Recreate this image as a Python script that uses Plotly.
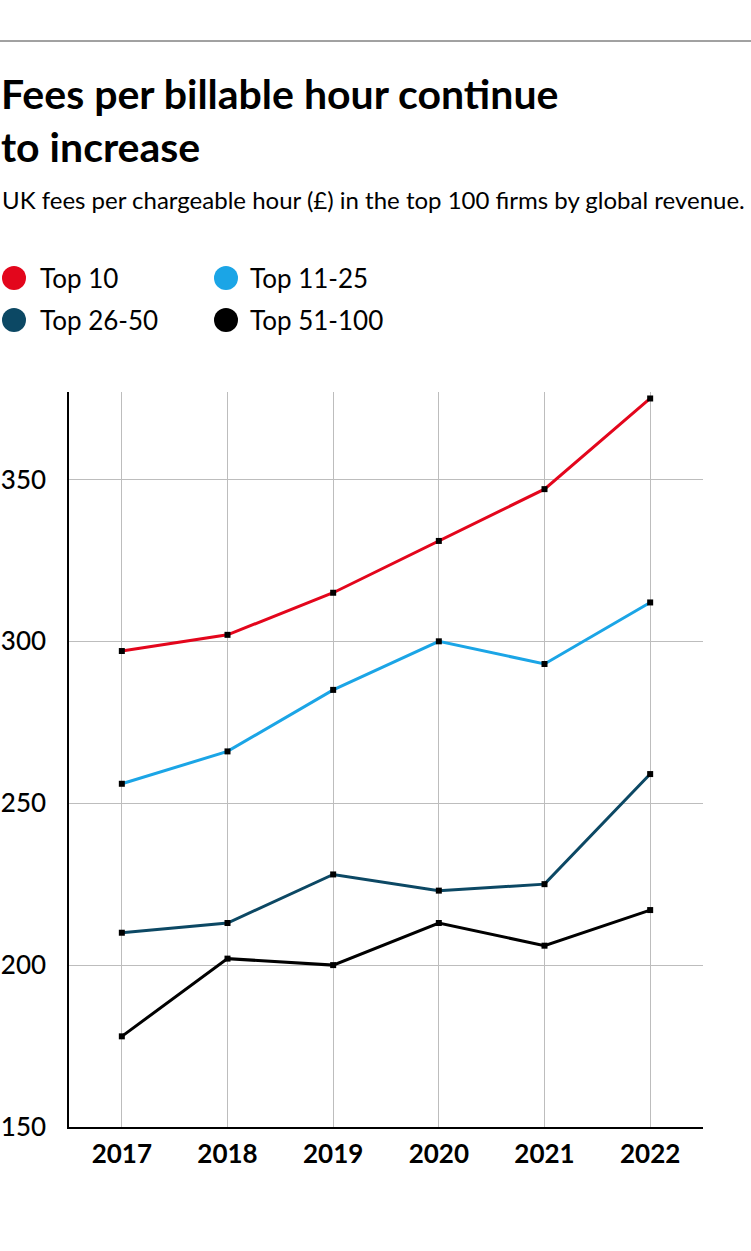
import plotly.graph_objects as go

years = [2017, 2018, 2019, 2020, 2021, 2022]
series_names = ["Top 10", "Top 11-25", "Top 26-50", "Top 51-100"]
top10 = [297, 302, 315, 331, 347, 375]
top11_25 = [256, 266, 285, 300, 293, 312]
top26_50 = [210, 213, 228, 223, 225, 259]
top51_100 = [178, 202, 200, 213, 206, 217]
series_values = [top10, top11_25, top26_50, top51_100]
colors = ["#e3061c", "#1ba5e6", "#0c4864", "#000000"]
y_ticks = [150, 200, 250, 300, 350]

W, H = 751, 1251
L, R, T, B = 69, 48, 392, 124
pw, ph = W - L - R, H - T - B

def px_x(x):
    return (x - L) / pw

def px_y(y):
    return (H - B - y) / ph

fig = go.Figure()
for name, vals, col in zip(series_names, series_values, colors):
    fig.add_trace(go.Scatter(
        x=years, y=vals, name=name, mode="lines+markers",
        line=dict(color=col, width=3),
        marker=dict(symbol="square", size=6, color="#000000"),
        showlegend=False,
    ))

# manual legend (2 columns): (circle centre x, centre y, label left x)
leg_pos = [(14, 278, 38), (226, 278, 248), (14, 320, 38), (226, 320, 248)]
shapes = []
annotations = []
for (cx, cy, lx), name, col in zip(leg_pos, series_names, colors):
    r = 12
    shapes.append(dict(type="circle", xref="paper", yref="paper",
                       x0=px_x(cx - r), x1=px_x(cx + r),
                       y0=px_y(cy + r), y1=px_y(cy - r),
                       fillcolor=col, line=dict(width=0)))
    annotations.append(dict(text=name, xref="paper", yref="paper",
                            x=px_x(lx), y=px_y(cy), xanchor="left", yanchor="middle",
                            showarrow=False, font=dict(family="Lato", size=26, color="#000")))

# top rule
shapes.append(dict(type="line", xref="paper", yref="paper",
                   x0=px_x(0), x1=px_x(W), y0=px_y(41), y1=px_y(41),
                   line=dict(color="#444", width=1)))

annotations.append(dict(
    text="UK fees per chargeable hour (£) in the top 100 firms by global revenue.",
    xref="paper", yref="paper", x=px_x(0), y=px_y(199), xanchor="left", yanchor="middle",
    showarrow=False, font=dict(family="Lato", size=24, color="#000")))

fig.update_layout(
    width=W, height=H,
    margin=dict(l=L, r=R, t=T, b=B),
    paper_bgcolor="white", plot_bgcolor="white",
    title=dict(text="<b>Fees per billable hour continue<br>to increase</b>",
               xref="container", yref="container", x=1 / W, xanchor="left",
               y=1 - 109 / H, yanchor="top",
               font=dict(family="Lato", size=41, color="#000")),
    shapes=shapes, annotations=annotations,
    xaxis=dict(range=[2016.5, 2022.5], tickvals=years, ticktext=[str(y) for y in years],
               showgrid=True, gridcolor="#bdbdbd", gridwidth=1,
               showline=True, linecolor="#000", linewidth=1.5,
               ticks="", ticklabelstandoff=3, zeroline=False, automargin=False,
               tickfont=dict(family="Lato", size=26, color="#000", weight="bold")),
    yaxis=dict(range=[150, 377], tickvals=y_ticks,
               showgrid=True, gridcolor="#bdbdbd", gridwidth=1,
               showline=True, linecolor="#000", linewidth=1.5,
               ticks="", ticklabelstandoff=16, zeroline=False, automargin=False,
               tickfont=dict(family="Lato", size=26, color="#000", weight=500)),
)

fig.write_html("out.html", config={"displayModeBar": False},
               post_script="document.body.style.margin='0';")
